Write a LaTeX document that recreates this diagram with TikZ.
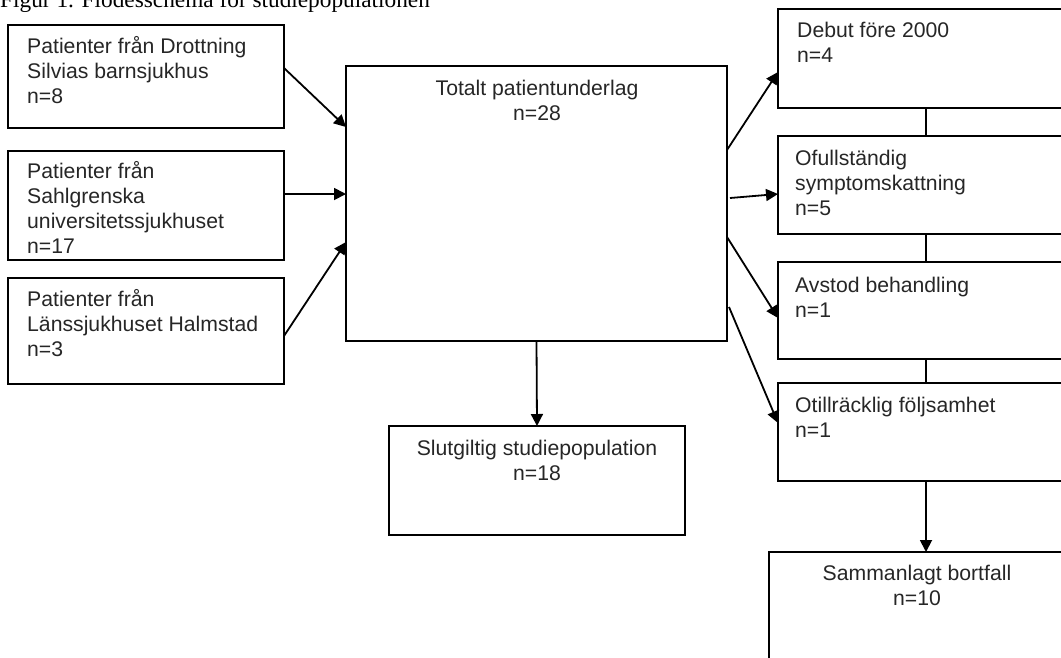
\documentclass[tikz,border=0pt]{standalone}
\usepackage{fontspec}
\setmainfont{Liberation Sans}
\newfontfamily\titlefont{Liberation Serif}
\usetikzlibrary{arrows.meta}
\newcommand{\mystrut}{\rule{0pt}{20pt}}
\begin{document}
\begin{tikzpicture}[x=1pt,y=-1pt,
  box/.style={draw=black, line width=2pt, rectangle, inner sep=0pt, outer sep=0pt, anchor=north west},
  txt/.style={inner sep=0pt, align=left, font=\fontsize{21.2}{25.2}\selectfont, anchor=north west, text=black!85},
  ctxt/.style={inner sep=0pt, align=center, font=\fontsize{21.2}{25.2}\selectfont, anchor=north, text=black!85},
  arr/.style={line width=1.8pt, -{Triangle[length=12pt,width=12pt]}},
  lnk/.style={line width=1.8pt}]
\useasboundingbox (0,0) rectangle (1061,657);
\clip (0,0) rectangle (1061,657);

\node[anchor=base west, inner sep=0pt, font=\titlefont\fontsize{23.3}{28}\selectfont] (title) at (0,7.5) {Figur 1. Flödesschema för studiepopulationen};

% boxes
\node[box, minimum width=276pt, minimum height=103pt] (b1) at (8,25) {};
\node[box, minimum width=276pt, minimum height=109pt] (b2) at (8,151) {};
\node[box, minimum width=276pt, minimum height=106pt] (b3) at (8,278) {};
\node[box, minimum width=381pt, minimum height=275pt] (c) at (346,66) {};
\node[box, minimum width=296pt, minimum height=99pt] (A) at (778,9) {};
\node[box, minimum width=296pt, minimum height=98pt] (B) at (778,136) {};
\node[box, minimum width=296pt, minimum height=97pt] (C) at (778,262) {};
\node[box, minimum width=296pt, minimum height=98pt] (D) at (778,383) {};
\node[box, minimum width=296pt, minimum height=109pt] (S) at (389,426) {};
\node[box, minimum width=314pt, minimum height=150pt] (T) at (769,552) {};

% texts
\node[txt] (t1) at (27,33) {\mystrut Patienter från Drottning\\Silvias barnsjukhus\\n=8};
\node[txt] (t2) at (27,158) {\mystrut Patienter från\\Sahlgrenska\\universitetssjukhuset\\n=17};
\node[txt] (t3) at (27,286) {\mystrut Patienter från\\Länssjukhuset Halmstad\\n=3};
\node[ctxt] (tc) at (537,75) {\mystrut Totalt patientunderlag\\n=28};
\node[txt] (tA) at (797,17) {\mystrut Debut före 2000\\n=4};
\node[txt] (tB) at (795,145) {\mystrut Ofullständig\\symptomskattning\\n=5};
\node[txt] (tC) at (795,272) {\mystrut Avstod behandling\\n=1};
\node[txt] (tD) at (795,392) {\mystrut Otillräcklig följsamhet\\n=1};
\node[ctxt] (tS) at (537,435) {\mystrut Slutgiltig studiepopulation\\n=18};
\node[ctxt] (tT) at (917,560) {\mystrut Sammanlagt bortfall\\n=10};

% left arrows
\draw[arr] ([yshift=8.5pt]b1.east) -- ([yshift=76.5pt]c.west);
\draw[arr] ([yshift=11.5pt]b2.east) -- ([yshift=9.5pt]c.west);
\draw[arr] ([yshift=-5pt]b3.east) -- ([yshift=-38.5pt]c.west);

% right arrows
\draw[arr] ([yshift=53.5pt]c.east) -- ([yshift=-13.5pt]A.west);
\draw[arr] ([xshift=3pt,yshift=5.5pt]c.east) -- ([yshift=-9pt]B.west);
\draw[arr] ([yshift=-33.5pt]c.east) -- ([yshift=-7.5pt]C.west);
\draw[arr] ([xshift=2pt,yshift=-103.5pt]c.east) -- ([yshift=9pt]D.west);

% links between right boxes
\draw[lnk] (A.south) -- (B.north);
\draw[lnk] (B.south) -- (C.north);
\draw[lnk] (C.south) -- (D.north);

% down arrows
\draw[arr] (c.south) -- (S.north);
\draw[arr] (D.south) -- (D.south |- T.north);
\end{tikzpicture}
\end{document}
